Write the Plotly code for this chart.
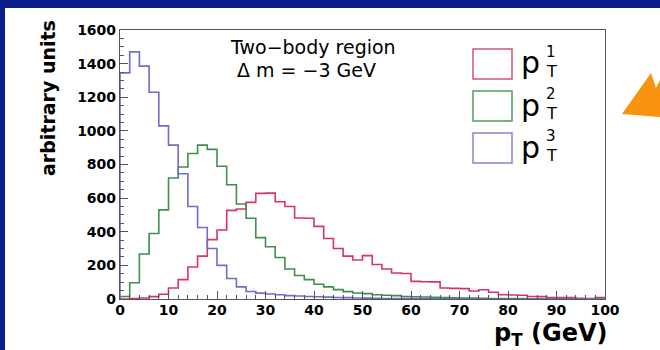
import plotly.graph_objects as go

# ---------------- data ----------------
bin_edges = [0, 2, 4, 6, 8, 10, 12, 14, 16, 18, 20, 22, 24, 26, 28, 30, 32, 34, 36, 38,
             40, 42, 44, 46, 48, 50, 52, 54, 56, 58, 60, 62, 64, 66, 68, 70, 72, 74, 76, 78,
             80, 82, 84, 86, 88, 90, 92, 94, 96, 98, 100]

pt1 = [0, 2, 6, 14, 28, 65, 115, 190, 255, 353,
       410, 527, 535, 575, 628, 630, 578, 550, 482, 480,
       432, 360, 300, 255, 232, 258, 205, 178, 155, 152,
       105, 103, 102, 65, 63, 62, 48, 55, 40, 25,
       24, 22, 15, 14, 9, 8, 8, 4, 3, 8]

pt2 = [15, 97, 268, 390, 530, 720, 785, 865, 915, 890,
       790, 680, 565, 480, 365, 311, 247, 178, 140, 115,
       88, 72, 56, 44, 36, 32, 25, 22, 20, 15,
       13, 12, 10, 8, 7, 6, 5, 4, 3, 3,
       2, 2, 1, 1, 1, 0, 0, 0, 0, 0]

pt3 = [1345, 1470, 1385, 1230, 1030, 915, 745, 550, 425, 300,
       200, 122, 72, 45, 35, 30, 25, 20, 18, 15,
       13, 11, 9, 8, 6, 5, 4, 3, 3, 2,
       2, 2, 1, 1, 1, 1, 1, 0, 0, 0,
       0, 0, 0, 0, 0, 0, 0, 0, 0, 0]

series_labels = ["1", "2", "3"]
x_tick_vals = [0, 10, 20, 30, 40, 50, 60, 70, 80, 90, 100]
y_tick_vals = [0, 200, 400, 600, 800, 1000, 1200, 1400, 1600]

# ---------------- style ----------------
W, H = 660, 350
ML, MR, MT, MB = 120, 55, 30, 51
PW, PH = W - ML - MR, H - MT - MB

def px(x):
    return (x - ML) / PW

def py(y):
    return (H - MB - y) / PH

SLIDE_BLUE = "#0b1c8c"
colors = ["#d6336e", "#3d8f4c", "#6e6ec6"]
box_colors = ["#d4507f", "#4f9a5f", "#8585cc"]
AXC = "#555555"
FONT = "DejaVu Sans"

fig = go.Figure()
for vals, col in zip([pt1, pt2, pt3], colors):
    xs = [bin_edges[0]] + bin_edges
    ys = [0] + vals + [vals[-1]]
    fig.add_trace(go.Scatter(x=xs, y=ys, mode="lines",
                             line=dict(color=col, width=1.6, shape="hv"),
                             showlegend=False, hoverinfo="skip"))

shapes = []
# white slide panel
shapes.append(dict(type="rect", xref="paper", yref="paper",
                   x0=px(5), x1=px(665), y0=py(8), y1=py(355),
                   fillcolor="white", line=dict(width=0), layer="below"))
# orange arrow (partially visible)
pts = [(622, 114), (651, 73), (656, 88), (661, 78), (661, 117)]
path = "M " + " L ".join(f"{px(a):.5f},{py(b):.5f}" for a, b in pts) + " Z"
shapes.append(dict(type="path", xref="paper", yref="paper", path=path,
                   fillcolor="#f7930f", line=dict(width=0)))

annotations = []
# legend boxes and labels
box_tops = [49, 91, 133]
for lab, top, bc in zip(series_labels, box_tops, box_colors):
    shapes.append(dict(type="rect", xref="paper", yref="paper",
                       x0=px(473), x1=px(512), y0=py(top), y1=py(top + 30),
                       line=dict(color=bc, width=1.5), fillcolor="rgba(0,0,0,0)"))
    annotations.append(dict(text="p", x=px(519), y=py(top + 14), xref="paper", yref="paper",
                            xanchor="left", yanchor="middle", showarrow=False,
                            font=dict(family=FONT, size=30, color="black")))
    annotations.append(dict(text=lab, x=px(551), y=py(top + 3), xref="paper", yref="paper",
                            xanchor="center", yanchor="middle", showarrow=False,
                            font=dict(family=FONT, size=15, color="black")))
    annotations.append(dict(text="T", x=px(551), y=py(top + 22), xref="paper", yref="paper",
                            xanchor="center", yanchor="middle", showarrow=False,
                            font=dict(family=FONT, size=16, color="black")))

# text block
annotations.append(dict(text="Two\u2212body region", x=px(313), y=py(47), xref="paper", yref="paper",
                        xanchor="center", yanchor="middle", showarrow=False,
                        font=dict(family=FONT, size=19, color="black")))
annotations.append(dict(text="\u0394 m = \u22123 GeV", x=px(306), y=py(70), xref="paper", yref="paper",
                        xanchor="center", yanchor="middle", showarrow=False,
                        font=dict(family=FONT, size=19, color="black")))
# axis titles
annotations.append(dict(text="arbitrary units", x=px(48), y=py(98), xref="paper", yref="paper",
                        xanchor="center", yanchor="middle", textangle=-90, showarrow=False,
                        font=dict(family=FONT, size=19, color="black", weight="bold")))
annotations.append(dict(text="p<sub>T</sub> (GeV)", x=px(609), y=py(334), xref="paper", yref="paper",
                        xanchor="right", yanchor="middle", showarrow=False,
                        font=dict(family=FONT, size=24, color="black", weight="bold")))

axis_common = dict(showgrid=False, zeroline=False, showline=True, linecolor=AXC, linewidth=1.2,
                   mirror=True, ticks="inside", ticklen=8, tickcolor=AXC, tickwidth=1,
                   tickfont=dict(family=FONT, size=14, color="black", weight="bold"))

fig.update_layout(
    width=W, height=H,
    margin=dict(l=ML, r=MR, t=MT, b=MB),
    paper_bgcolor=SLIDE_BLUE, plot_bgcolor="white",
    shapes=shapes, annotations=annotations,
    xaxis=dict(range=[0, 100], tickmode="array", tickvals=x_tick_vals, ticklabelstandoff=-2,
               minor=dict(ticks="inside", ticklen=4, dtick=2, tick0=0, tickcolor=AXC, showgrid=False),
               **axis_common),
    yaxis=dict(range=[0, 1600], tickmode="array", tickvals=y_tick_vals, ticklabelstandoff=0,
               minor=dict(ticks="inside", ticklen=4, dtick=50, tick0=0, tickcolor=AXC, showgrid=False),
               **axis_common),
)

fig.write_html("out.html")
